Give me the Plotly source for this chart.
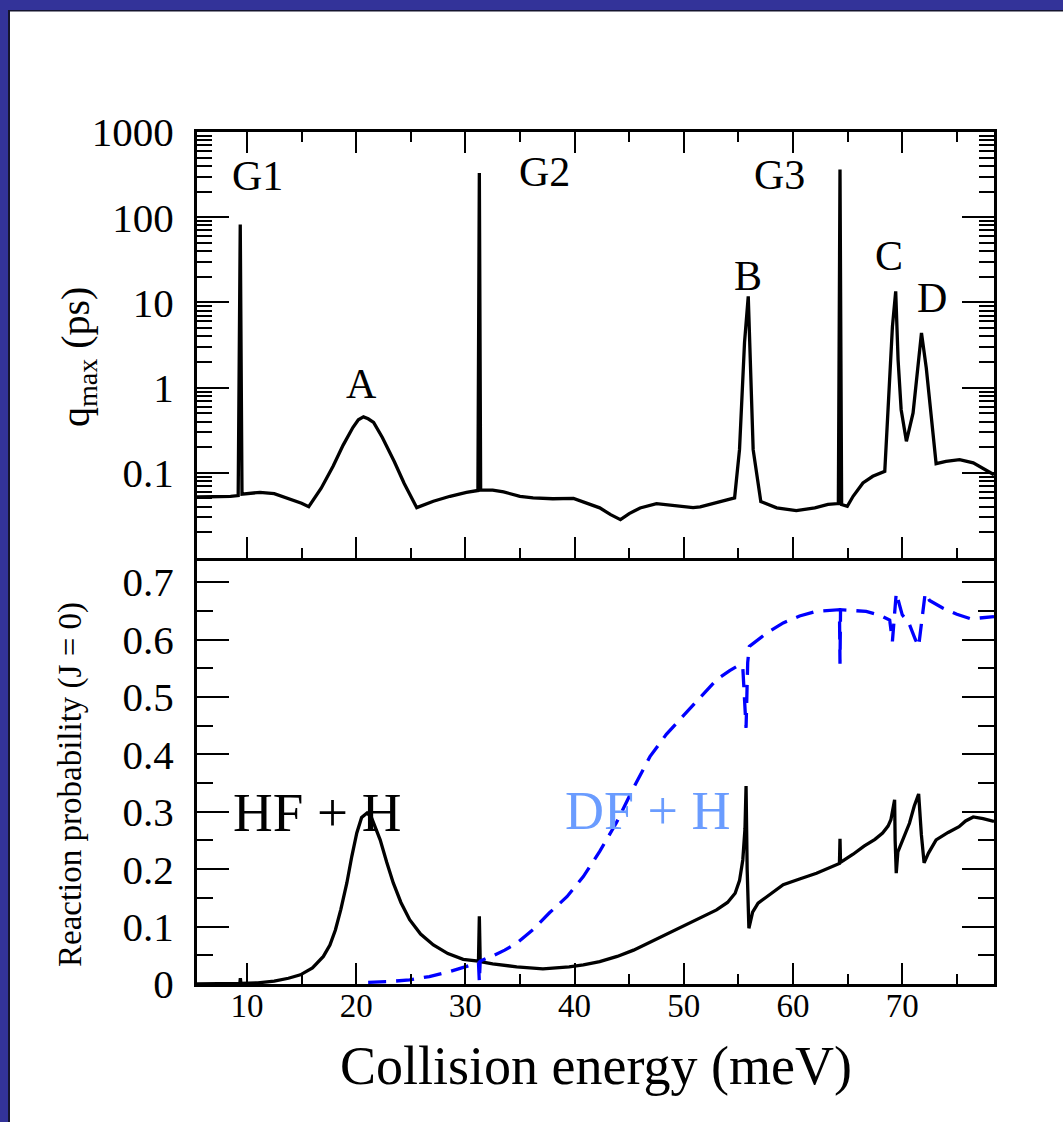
import plotly.graph_objects as go

# ---- data -------------------------------------------------------------
# Upper panel: lifetime q_max (ps) versus collision energy (meV)
energy_q = [5.43, 7.0, 8.5, 9.2, 9.39, 9.55, 10.5, 11.2, 12.5, 14.0, 15.0, 15.66,
            16.8, 17.9, 18.8, 19.7, 20.2, 20.67, 21.1, 21.6, 22.4, 23.5, 24.4, 25.55,
            27.07, 28.6, 30.1, 31.15, 31.28, 31.4, 32.5, 33.5, 35.0, 36.2, 38.0, 39.9,
            41.0, 42.3, 43.3, 44.2, 45.0, 46.0, 47.5, 49.5, 50.85, 51.5, 53.0, 54.65,
            55.1, 55.41, 55.56, 55.9, 56.05, 56.2, 56.35, 57.05, 58.5, 60.3, 62.0, 63.2,
            64.15, 64.3, 64.45, 64.97, 65.5, 66.4, 67.3, 68.4, 68.86, 69.1, 69.4, 69.62,
            69.9, 70.38, 70.99, 71.23, 71.44, 71.76, 72.2, 72.5, 72.8, 73.1, 74.0, 75.25,
            76.5, 77.5, 78.4]
qmax = [0.052, 0.052, 0.053, 0.054, 82, 0.056, 0.058, 0.059, 0.057, 0.049, 0.044, 0.040,
        0.066, 0.12, 0.21, 0.34, 0.42, 0.453, 0.43, 0.39, 0.26, 0.135, 0.075, 0.039,
        0.0463, 0.053, 0.059, 0.062, 331, 0.063, 0.0625, 0.0597, 0.0529, 0.0507, 0.0496, 0.050,
        0.0443, 0.0388, 0.0323, 0.0282, 0.0332, 0.0387, 0.0435, 0.0412, 0.039, 0.0398, 0.0443, 0.0507,
        0.187, 1.36, 3.4, 11.8, 3.4, 0.55, 0.187, 0.046, 0.0388, 0.036, 0.0388, 0.0425,
        0.0435, 362, 0.0425, 0.0404, 0.053, 0.076, 0.091, 0.104, 1.36, 5.2, 13.5, 2.1,
        0.55, 0.234, 0.505, 0.95, 1.95, 4.39, 1.7, 0.72, 0.31, 0.128, 0.136, 0.143,
        0.131, 0.111, 0.095]

# Lower panel: J = 0 reaction probability, HF + H channel
energy_hf = [5.43, 7.0, 9.0, 9.35, 9.4, 9.45, 11.0, 12.5, 13.8, 14.9, 16.0, 17.0,
             17.6, 18.1, 18.6, 19.15, 19.6, 20.06, 20.5, 21.0, 21.4, 21.8, 22.2, 22.8,
             23.4, 24.1, 24.9, 25.9, 27.07, 28.4, 29.8, 31.2, 31.28, 31.36, 32.5, 34.7,
             37.1, 39.5, 40.8, 42.3, 43.9, 45.4, 47.6, 49.9, 51.5, 53.0, 54.0, 54.7,
             55.1, 55.4, 55.6, 55.7, 55.8, 55.96, 56.3, 56.8, 57.6, 59.1, 60.6, 62.15,
             64.25, 64.3, 64.35, 65.5, 66.5, 67.5, 68.2, 68.7, 68.96, 69.3, 69.35, 69.45,
             69.6, 69.9, 70.66, 71.1, 71.5, 71.75, 72.0, 72.4, 73.1, 74.2, 75.2, 75.8,
             76.5, 77.4, 78.4]
prob_hf = [0.0, 0.0005, 0.001, 0.001, 0.010, 0.001, 0.002, 0.005, 0.010, 0.016, 0.028, 0.048,
           0.068, 0.094, 0.13, 0.176, 0.222, 0.263, 0.290, 0.298, 0.290, 0.272, 0.251, 0.212,
           0.176, 0.142, 0.112, 0.087, 0.068, 0.053, 0.043, 0.040, 0.118, 0.039, 0.035, 0.030,
           0.0265, 0.030, 0.0334, 0.039, 0.048, 0.059, 0.079, 0.100, 0.115, 0.129, 0.142, 0.158,
           0.18, 0.216, 0.27, 0.345, 0.2, 0.097, 0.125, 0.141, 0.152, 0.173, 0.183, 0.193,
           0.210, 0.253, 0.212, 0.226, 0.240, 0.252, 0.263, 0.275, 0.286, 0.321, 0.25, 0.193,
           0.23, 0.245, 0.280, 0.31, 0.331, 0.26, 0.211, 0.228, 0.251, 0.264, 0.274, 0.284,
           0.291, 0.288, 0.283]

# Lower panel: J = 0 reaction probability, DF + H channel
energy_df = [21.1, 22.8, 24.9, 26.7, 28.6, 30.2, 31.2, 31.28, 31.36, 32.5, 33.6, 34.7,
             36.2, 37.7, 39.3, 40.8, 42.3, 43.8, 45.3, 46.9, 48.4, 49.9, 51.5, 53.0,
             54.2, 55.1, 55.4, 55.7, 55.85, 56.0, 57.5, 59.1, 60.6, 62.1, 64.25, 64.3,
             64.35, 66.7, 68.0, 68.85, 69.1, 69.45, 70.0, 70.6, 71.2, 71.5, 72.1, 72.5,
             73.7, 75.0, 76.3, 77.2, 78.4]
prob_df = [0.003, 0.004, 0.007, 0.013, 0.022, 0.031, 0.037, 0.004, 0.040, 0.049, 0.059, 0.071,
           0.095, 0.124, 0.152, 0.187, 0.231, 0.280, 0.338, 0.396, 0.435, 0.466, 0.500, 0.530,
           0.546, 0.556, 0.552, 0.446, 0.56, 0.588, 0.610, 0.629, 0.641, 0.649, 0.652, 0.558,
           0.652, 0.649, 0.642, 0.634, 0.597, 0.681, 0.643, 0.629, 0.60, 0.588, 0.681, 0.668,
           0.655, 0.644, 0.636, 0.638, 0.640]

x_ticks = [10, 20, 30, 40, 50, 60, 70]
q_ticks = [0.1, 1, 10, 100, 1000]
q_tick_text = ["0.1", "1", "10", "100", "1000"]
p_ticks = [0, 0.1, 0.2, 0.3, 0.4, 0.5, 0.6, 0.7]
p_tick_text = ["0", "0.1", "0.2", "0.3", "0.4", "0.5", "0.6", "0.7"]

resonance_labels = ["G1", "G2", "G3", "A", "B", "C", "D"]

# ---- layout geometry --------------------------------------------------
W, H = 1063, 1122
ML, MR, MT, MB = 197, 69, 132, 138
PW, PH = W - ML - MR, H - MT - MB
SERIF = "Liberation Serif"


def px(x):
    return (x - ML) / PW


def py(y):
    return (H - MB - y) / PH


fig = go.Figure()

fig.add_trace(go.Scatter(x=energy_q, y=qmax, mode="lines", xaxis="x2", yaxis="y2",
                         line=dict(color="black", width=3.3), showlegend=False))
fig.add_trace(go.Scatter(x=energy_hf, y=prob_hf, mode="lines", xaxis="x", yaxis="y",
                         line=dict(color="black", width=3.3), showlegend=False))
fig.add_trace(go.Scatter(x=energy_df, y=prob_df, mode="lines", xaxis="x", yaxis="y",
                         line=dict(color="#0000ff", width=3.3, dash="18px,10px"),
                         showlegend=False))

xrange_ = [5.43, 78.4]
common_x = dict(range=xrange_, showgrid=False, zeroline=False, showline=True,
                linecolor="black", linewidth=3, ticks="inside", ticklen=21, tickwidth=2,
                tickcolor="black", tickvals=x_ticks,
                minor=dict(dtick=5, tick0=0, ticks="inside", ticklen=10, tickwidth=2,
                           tickcolor="black", showgrid=False))

common_y = dict(showgrid=False, zeroline=False, showline=True, linecolor="black",
                linewidth=3, ticks="inside", ticklen=32, tickwidth=2, tickcolor="black",
                mirror="ticks", ticklabelstandoff=12,
                tickfont=dict(family=SERIF, size=41, color="black"))

fig.update_layout(
    width=W, height=H,
    margin=dict(l=ML, r=MR, t=MT, b=MB, pad=0),
    paper_bgcolor="white", plot_bgcolor="white",
    font=dict(family=SERIF, color="black"),
    xaxis=dict(**common_x, domain=[0, 1], anchor="y", mirror=False,
               ticklabelstandoff=-10,
               tickfont=dict(family=SERIF, size=33, color="black")),
    xaxis2=dict(**common_x, domain=[0, 1], anchor="y2", mirror="ticks",
                matches="x", showticklabels=False),
    yaxis=dict(**common_y, domain=[0, 0.5], anchor="x", range=[0, 0.742],
               tickvals=p_ticks, ticktext=p_tick_text,
               minor=dict(dtick=0.05, tick0=0, ticks="inside", ticklen=16, tickwidth=2,
                          tickcolor="black", showgrid=False)),
    yaxis2=dict(**common_y, domain=[0.5, 1], anchor="x2", type="log", range=[-2, 3],
                tickvals=q_ticks, ticktext=q_tick_text,
                minor=dict(dtick="D1", ticks="inside", ticklen=15, tickwidth=2,
                           tickcolor="black", showgrid=False)),
)

# frame: blue band along the top and left edge with a dark inner rule
FRAME = "#333399"
fig.add_shape(type="rect", xref="paper", yref="paper", x0=px(0), x1=px(W), y0=py(10),
              y1=py(0), fillcolor=FRAME, line=dict(width=0), layer="above")
fig.add_shape(type="rect", xref="paper", yref="paper", x0=px(0), x1=px(8), y0=py(H),
              y1=py(0), fillcolor=FRAME, line=dict(width=0), layer="above")
fig.add_shape(type="rect", xref="paper", yref="paper", x0=px(8), x1=px(W), y0=py(11.5),
              y1=py(10), fillcolor="#15152e", line=dict(width=0), layer="above")
fig.add_shape(type="rect", xref="paper", yref="paper", x0=px(8), x1=px(10), y0=py(H),
              y1=py(10), fillcolor="#15152e", line=dict(width=0), layer="above")

# resonance labels on the lifetime panel
label_pos = [(257, 176), (544, 172), (779, 175), (361, 384), (748, 276), (889, 256), (932, 298)]
for text, (lx, ly) in zip(resonance_labels, label_pos):
    fig.add_annotation(text=text, xref="paper", yref="paper", x=px(lx), y=py(ly),
                       showarrow=False, xanchor="center", yanchor="middle",
                       font=dict(family=SERIF, size=42, color="black"))

# channel labels on the probability panel
fig.add_annotation(text="HF + H", xref="paper", yref="paper", x=px(317), y=py(812),
                   showarrow=False, xanchor="center", yanchor="middle",
                   font=dict(family=SERIF, size=55, color="black"))
fig.add_annotation(text="DF + H", xref="paper", yref="paper", x=px(647), y=py(811),
                   showarrow=False, xanchor="center", yanchor="middle",
                   font=dict(family=SERIF, size=54, color="#6a9cff"))

# axis titles
fig.add_annotation(text="Collision energy (meV)", xref="paper", yref="paper",
                   x=px(596), y=py(1066), showarrow=False, xanchor="center",
                   yanchor="middle", font=dict(family=SERIF, size=54, color="black"))
fig.add_annotation(text="q<sub>max</sub> (ps)", xref="paper", yref="paper",
                   x=px(78), y=py(357), showarrow=False, xanchor="center",
                   yanchor="middle", textangle=-90,
                   font=dict(family=SERIF, size=40, color="black"))
fig.add_annotation(text="Reaction probability (J = 0)", xref="paper", yref="paper",
                   x=px(70), y=py(785), showarrow=False, xanchor="center",
                   yanchor="middle", textangle=-90,
                   font=dict(family=SERIF, size=33, color="black"))

fig.write_html("out.html")
